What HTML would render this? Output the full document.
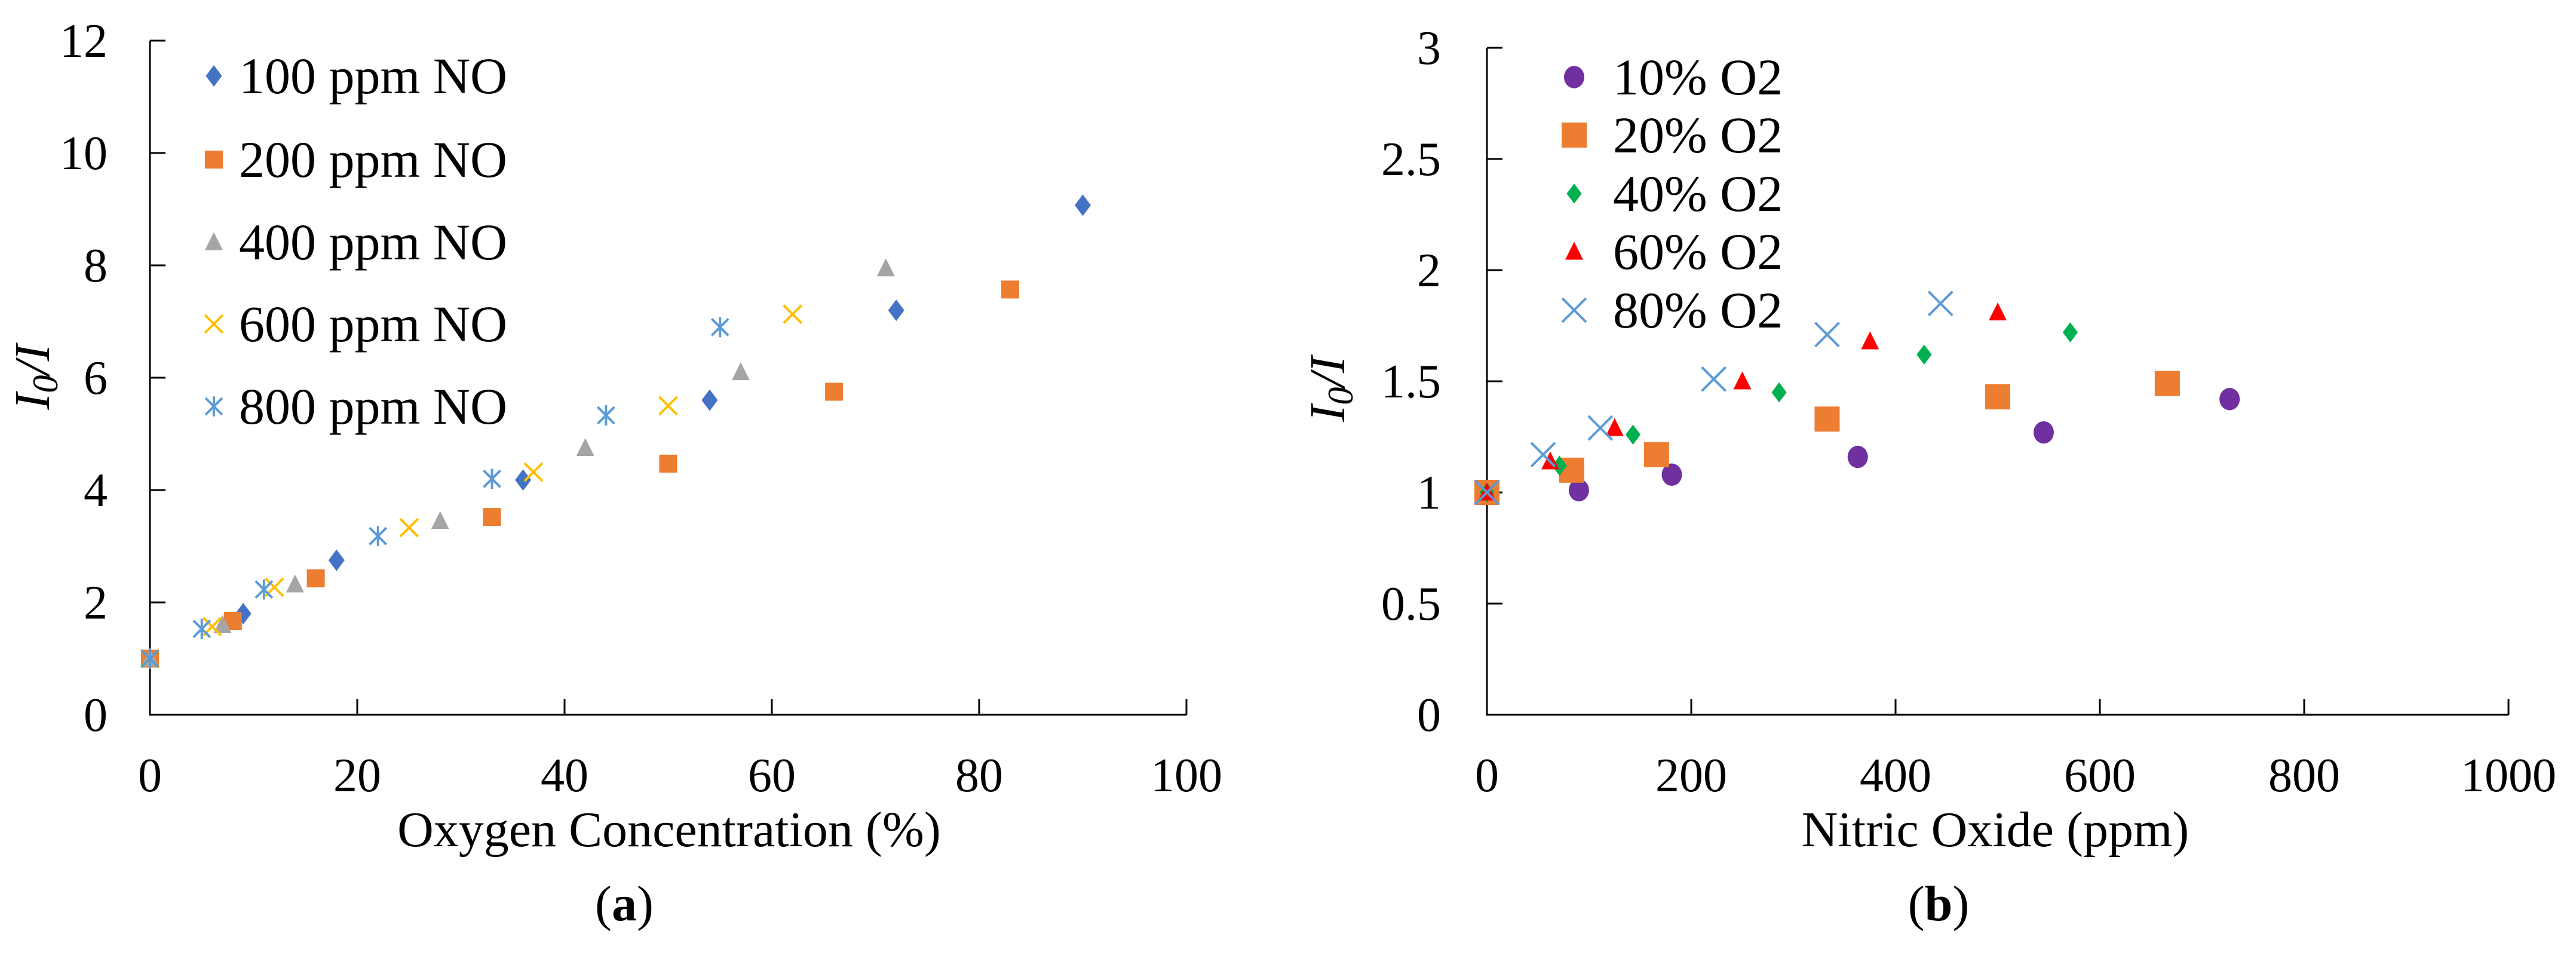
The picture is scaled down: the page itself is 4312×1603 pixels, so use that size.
<!DOCTYPE html>
<html><head><meta charset="utf-8"><style>
html,body{margin:0;padding:0;background:#fff;}
svg, svg text{font-family:"Liberation Serif","DejaVu Serif",serif;}
</style></head><body>
<svg id="c" width="4312" height="1598" viewBox="0 0 4312 1598" xmlns="http://www.w3.org/2000/svg" font-family="Liberation Serif, DejaVu Serif, serif"></svg>
<script>
// Chart (a) data
const aXTicks=[0,20,40,60,80,100];
const aYTicks=[0,2,4,6,8,10,12];
const aSeriesNames=["100 ppm NO","200 ppm NO","400 ppm NO","600 ppm NO","800 ppm NO"];
const aX100=[0,9,18,36,54,72,90];
const aY100=[1,1.8,2.75,4.18,5.6,7.2,9.07];
const aX200=[0,8,16,33,50,66,83];
const aY200=[1,1.67,2.43,3.52,4.47,5.75,7.57];
const aX400=[0,7,14,28,42,57,71];
const aY400=[1,1.6,2.32,3.45,4.75,6.1,7.95];
const aX600=[0,6,12,25,37,50,62];
const aY600=[1,1.57,2.27,3.33,4.32,5.5,7.13];
const aX800=[0,5,11,22,33,44,55];
const aY800=[1,1.53,2.23,3.18,4.2,5.33,6.9];
// Chart (b) data
const bXTicks=[0,200,400,600,800,1000];
const bYTicks=[0,0.5,1,1.5,2,2.5,3];
const bSeriesNames=["10% O2","20% O2","40% O2","60% O2","80% O2"];
const bX10=[0,90,181,363,545,727];
const bY10=[1,1.01,1.08,1.16,1.27,1.42];
const bX20=[0,83,166,333,500,666];
const bY20=[1,1.1,1.17,1.33,1.43,1.49];
const bX40=[0,71,143,286,428,571];
const bY40=[1,1.12,1.26,1.45,1.62,1.72];
const bX60=[0,62,125,250,375,500];
const bY60=[1,1.14,1.29,1.5,1.68,1.81];
const bX80=[0,55,111,222,333,444];
const bY80=[1,1.17,1.29,1.51,1.71,1.85];

const NS="http://www.w3.org/2000/svg";
const FF="Liberation Serif, DejaVu Serif, serif";
const svg=document.getElementById('c');
function mk(tag,attrs,parent,text){const e=document.createElementNS(NS,tag);for(const k in attrs)e.setAttribute(k,attrs[k]);if(tag==='text')e.setAttribute('font-family',FF);if(text!==undefined)e.textContent=text;(parent||svg).appendChild(e);return e;}

function marker(g,type,cx,cy,color,s){
  let e;
  if(type==='diamond'){e=mk('polygon',{points:`${cx},${cy-s*0.6} ${cx+s*0.45},${cy} ${cx},${cy+s*0.6} ${cx-s*0.45},${cy}`,fill:color},g);}
  else if(type==='square'){e=mk('rect',{x:cx-s/2,y:cy-s/2,width:s,height:s,fill:color},g);}
  else if(type==='triangle'){e=mk('polygon',{points:`${cx},${cy-s*0.55} ${cx+s*0.5},${cy+s*0.45} ${cx-s*0.5},${cy+s*0.45}`,fill:color},g);}
  else if(type==='circle'){e=mk('ellipse',{cx:cx,cy:cy,rx:s*0.5,ry:s*0.55,fill:color},g);}
  else if(type==='x'){e=mk('path',{d:`M${cx-s/2} ${cy-s/2}L${cx+s/2} ${cy+s/2}M${cx+s/2} ${cy-s/2}L${cx-s/2} ${cy+s/2}`,stroke:color,'stroke-width':4,fill:'none'},g);}
  else if(type==='star'){e=mk('path',{d:`M${cx-s/2} ${cy-s/2}L${cx+s/2} ${cy+s/2}M${cx+s/2} ${cy-s/2}L${cx-s/2} ${cy+s/2}M${cx} ${cy-s*0.6}L${cx} ${cy+s*0.6}`,stroke:color,'stroke-width':4,fill:'none'},g);}
  return e;
}

function chart(cfg){
  const g=mk('g',{});
  
  
  const xmax=cfg.xTicks[cfg.xTicks.length-1], ymax=cfg.yTicks[cfg.yTicks.length-1];
  const sx=v=>cfg.x0+(v/xmax)*(cfg.x1-cfg.x0);
  const sy=v=>cfg.y0-(v/ymax)*(cfg.y0-cfg.y1);
  const ax=mk('path',{d:`M${cfg.x0} ${cfg.y1}L${cfg.x0} ${cfg.y0}L${cfg.x1} ${cfg.y0}`,stroke:'#000','stroke-width':3,fill:'none'},g);
  
  
  cfg.yTicks.forEach(v=>{
    mk('line',{x1:cfg.x0,x2:cfg.x0+26,y1:sy(v),y2:sy(v),stroke:'#000','stroke-width':3},g);
    const t=mk('text',{x:cfg.ylabX,y:sy(v)+27,'font-size':80,'text-anchor':'end'},g,String(v));
    
    
  });
  cfg.xTicks.forEach(v=>{
    mk('line',{x1:sx(v),x2:sx(v),y1:cfg.y0,y2:cfg.y0-26,stroke:'#000','stroke-width':3},g);
    const t=mk('text',{x:sx(v),y:1324,'font-size':80,'text-anchor':'middle'},g,String(v));
    
    
  });
  const xt=mk('text',{x:cfg.xtX,y:1416,'font-size':84,'text-anchor':'middle'},g,cfg.xTitle);
  
  
  const yt=mk('text',{transform:`translate(${cfg.ytX},${cfg.ytY}) rotate(-90)`,'font-size':84,'text-anchor':'middle','font-style':'italic'},g);
  
  
  mk('tspan',{},yt,'I');
  mk('tspan',{'font-size':60,dy:14},yt,'0');
  mk('tspan',{dy:-14},yt,'/I');
  const pl=mk('text',{x:cfg.plX,y:1540,'font-size':84,'text-anchor':'middle'},g);
  
  
  mk('tspan',{},pl,'(');
  mk('tspan',{'font-weight':'bold'},pl,cfg.panel);
  mk('tspan',{},pl,')');
  cfg.series.forEach((s,i)=>{
    const sg=mk('g',{},g);
    
    
    s.xs.forEach((xv,j)=>{
      const m=marker(sg,s.type,sx(xv),sy(s.ys[j]),s.color,s.size);
      
      
    });
    const lg=mk('g',{},g);
    
    
    const ly=cfg.legY[i];
    marker(lg,s.type,cfg.legMX,ly,s.color,s.size);
    mk('text',{x:cfg.legTX,y:ly+29,'font-size':cfg.legFS},lg,s.name);
  });
}

chart({name:'chart-a',x0:251,x1:1986,y0:1196,y1:68,xTicks:aXTicks,yTicks:aYTicks,ylabX:180,
  xTitle:'Oxygen Concentration (%)',xtX:1120,ytX:82,ytY:631,plX:1045,panel:'a',
  legMX:358,legTX:400,legFS:86,legY:[127,267,405,542,680],
  series:[
    {name:aSeriesNames[0],xs:aX100,ys:aY100,type:'diamond',color:'#4472C4',size:30},
    {name:aSeriesNames[1],xs:aX200,ys:aY200,type:'square',color:'#ED7D31',size:30},
    {name:aSeriesNames[2],xs:aX400,ys:aY400,type:'triangle',color:'#A5A5A5',size:30},
    {name:aSeriesNames[3],xs:aX600,ys:aY600,type:'x',color:'#FFC000',size:30},
    {name:aSeriesNames[4],xs:aX800,ys:aY800,type:'star',color:'#5B9BD5',size:28}
  ]});
chart({name:'chart-b',x0:2489,x1:4199,y0:1196,y1:80,xTicks:bXTicks,yTicks:bYTicks,ylabX:2412,
  xTitle:'Nitric Oxide (ppm)',xtX:3340,ytX:2250,ytY:651,plX:3245,panel:'b',
  legMX:2635,legTX:2700,legFS:86,legY:[129,226,324,421,519],
  series:[
    {name:bSeriesNames[0],xs:bX10,ys:bY10,type:'circle',color:'#7030A0',size:34},
    {name:bSeriesNames[1],xs:bX20,ys:bY20,type:'square',color:'#ED7D31',size:42},
    {name:bSeriesNames[2],xs:bX40,ys:bY40,type:'diamond',color:'#00B050',size:28},
    {name:bSeriesNames[3],xs:bX60,ys:bY60,type:'triangle',color:'#FF0000',size:30},
    {name:bSeriesNames[4],xs:bX80,ys:bY80,type:'x',color:'#5B9BD5',size:40}
  ]});
</script>
</body></html>
